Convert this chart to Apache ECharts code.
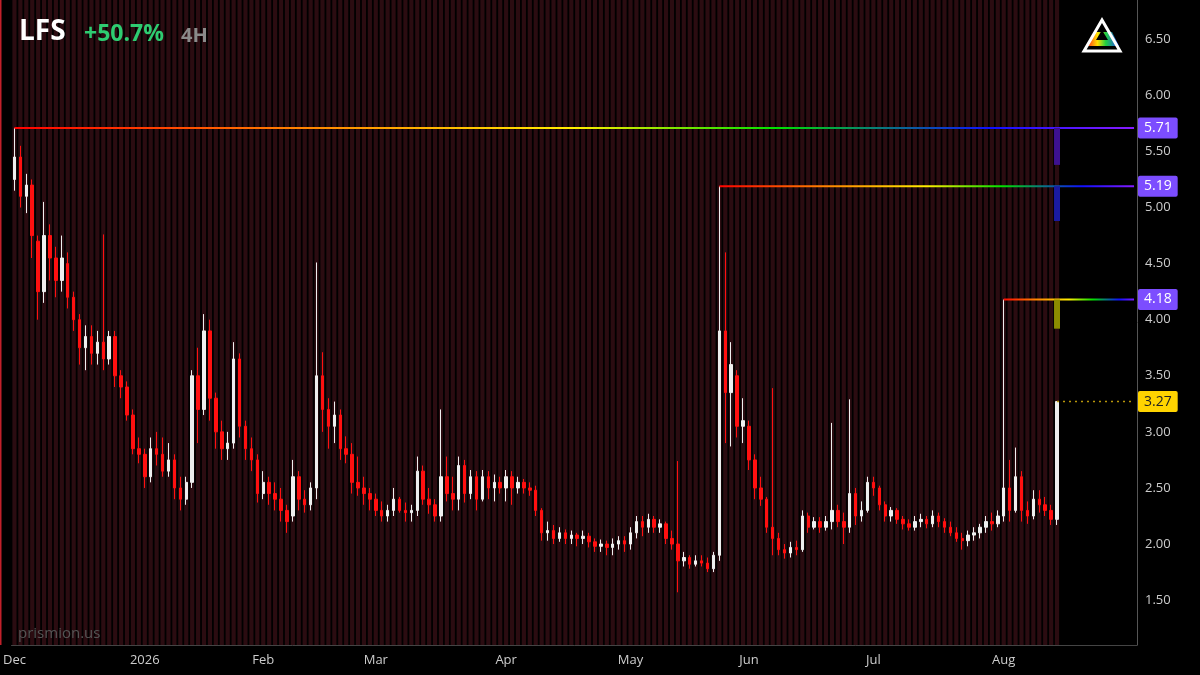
<!DOCTYPE html>
<html>
<head>
<meta charset="utf-8">
<script src="https://cdn.jsdelivr.net/npm/echarts@6/dist/echarts.min.js"></script>
<style>html,body{margin:0;background:#000;}#main{width:1200px;height:675px;}</style>
</head>
<body>
<div id="main"></div>
<script>
// daily OHLC as [open, close, low, high]
var ohlcDec = [[5.25,5.45,5.15,5.71],[5.45,5.1,5.0,5.55],[5.1,5.2,4.95,5.3],[5.2,4.75,4.55,5.25],[4.7,4.25,4.0,4.75],
    [4.25,4.75,4.15,5.05],[4.75,4.55,4.35,4.85],[4.55,4.35,4.2,4.65],[4.35,4.55,4.25,4.75],[4.5,4.2,4.1,4.6],
    [4.2,4.0,3.9,4.25],[4.0,3.75,3.6,4.05],[3.75,3.85,3.55,3.95],[3.85,3.7,3.6,3.95],[3.7,3.8,3.6,3.9],
    [3.8,3.65,3.55,4.76],[3.65,3.85,3.6,3.9],[3.85,3.5,3.4,3.9],[3.5,3.4,3.3,3.55],[3.4,3.15,3.1,3.45],
    [3.15,2.85,2.8,3.2],[2.85,2.8,2.72,2.95]];
var ohlcJan = [[2.8,2.6,2.5,2.85],[2.6,2.85,2.55,2.95],[2.85,2.8,2.7,3.0],[2.8,2.65,2.6,2.95],[2.65,2.75,2.6,2.9],
    [2.75,2.5,2.4,2.8],[2.5,2.4,2.3,2.6],[2.4,2.55,2.35,2.6],[2.55,3.5,2.5,3.55],[3.5,3.2,2.9,3.75],
    [3.2,3.9,3.15,4.05],[3.9,3.3,3.1,4.0],[3.3,3.0,2.85,3.35],[3.0,2.85,2.75,3.1],[2.85,2.9,2.75,3.0],
    [2.9,3.65,2.85,3.8],[3.65,3.05,2.95,3.7],[3.05,2.85,2.75,3.1],[2.85,2.75,2.65,2.95],[2.75,2.45,2.37,2.8]];
var ohlcFeb = [[2.45,2.55,2.4,2.65],[2.55,2.45,2.35,2.6],[2.45,2.4,2.3,2.55],[2.4,2.3,2.2,2.5],[2.3,2.2,2.1,2.35],
    [2.25,2.6,2.2,2.75],[2.6,2.4,2.3,2.65],[2.4,2.35,2.28,2.48],[2.35,2.5,2.3,2.55],[2.5,3.5,2.4,4.51],
    [3.5,3.2,3.0,3.71],[3.2,3.05,2.85,3.3],[3.05,3.15,2.9,3.27],[3.15,2.85,2.75,3.2],[2.85,2.8,2.72,2.96],
    [2.8,2.55,2.45,2.9],[2.55,2.5,2.43,2.78],[2.5,2.45,2.35,2.6],[2.45,2.4,2.3,2.5]];
var ohlcMar = [[2.4,2.3,2.25,2.45],[2.3,2.25,2.2,2.38],[2.25,2.3,2.2,2.35],[2.3,2.4,2.25,2.5],[2.4,2.3,2.28,2.42],
    [2.3,2.28,2.2,2.37],[2.28,2.3,2.2,2.35],[2.3,2.65,2.25,2.78],[2.65,2.4,2.35,2.7],[2.4,2.35,2.27,2.5],
    [2.35,2.25,2.2,2.4],[2.25,2.6,2.2,3.2],[2.6,2.45,2.38,2.78],[2.45,2.4,2.3,2.6],[2.4,2.7,2.3,2.78],
    [2.7,2.45,2.37,2.75],[2.45,2.6,2.4,2.66],[2.6,2.4,2.3,2.65],[2.4,2.6,2.38,2.66],[2.6,2.5,2.4,2.65],
    [2.5,2.55,2.38,2.62],[2.55,2.5,2.45,2.6]];
var ohlcApr = [[2.5,2.6,2.38,2.66],[2.6,2.5,2.35,2.65],[2.5,2.55,2.45,2.6],[2.55,2.5,2.45,2.58],[2.5,2.48,2.43,2.55],
    [2.48,2.3,2.25,2.52],[2.3,2.1,2.03,2.32],[2.1,2.12,2.03,2.2],[2.12,2.05,2.0,2.17],[2.05,2.1,2.02,2.15],
    [2.1,2.05,2.0,2.13],[2.05,2.08,2.0,2.12],[2.08,2.05,1.98,2.1],[2.05,2.07,2.0,2.12],[2.07,2.02,1.97,2.1],
    [2.02,1.98,1.93,2.05],[1.98,2.0,1.93,2.04],[2.0,1.97,1.9,2.03],[1.97,2.0,1.9,2.05],[2.0,2.03,1.95,2.07],
    [2.03,2.0,1.93,2.07]];
var ohlcMay = [[2.0,2.1,1.95,2.15],[2.1,2.2,2.05,2.25],[2.2,2.15,2.07,2.25],[2.15,2.22,2.1,2.27],[2.22,2.15,2.1,2.25],
    [2.15,2.18,2.1,2.22],[2.18,2.05,2.0,2.2],[2.05,2.0,1.95,2.12],[2.0,1.85,1.57,2.74],[1.85,1.88,1.8,1.93],
    [1.88,1.82,1.78,1.9],[1.82,1.85,1.8,1.9],[1.85,1.83,1.8,1.9],[1.83,1.78,1.75,1.88],[1.78,1.9,1.75,1.93],
    [1.9,3.9,1.85,5.19],[3.9,3.35,2.9,4.6],[3.35,3.6,2.87,3.8],[3.5,3.05,2.95,3.55],[3.05,3.1,2.9,3.3]];
var ohlcJun = [[3.05,2.75,2.66,3.1],[2.75,2.5,2.4,2.8],[2.5,2.4,2.34,2.6],[2.4,2.15,2.1,2.42],[2.15,2.05,1.9,3.39],
    [2.05,1.95,1.9,2.1],[1.95,1.92,1.87,2.0],[1.92,1.97,1.88,2.02],[1.97,1.95,1.9,2.03],[1.95,2.25,1.93,2.3],
    [2.25,2.15,2.1,2.28],[2.15,2.2,2.13,2.24],[2.2,2.15,2.1,2.24],[2.15,2.2,2.12,2.25],[2.2,2.3,2.13,3.08],
    [2.3,2.2,2.15,2.35],[2.2,2.15,2.0,2.28],[2.15,2.45,2.1,3.29],[2.45,2.25,2.17,2.5],[2.25,2.3,2.2,2.38],
    [2.3,2.55,2.28,2.6]];
var ohlcJul = [[2.55,2.5,2.43,2.6],[2.5,2.35,2.3,2.52],[2.35,2.25,2.2,2.38],[2.25,2.3,2.2,2.33],[2.3,2.22,2.18,2.32],
    [2.22,2.18,2.13,2.25],[2.18,2.15,2.12,2.22],[2.15,2.2,2.12,2.25],[2.2,2.22,2.15,2.27],[2.22,2.18,2.14,2.25],
    [2.18,2.25,2.15,2.3],[2.25,2.2,2.15,2.28],[2.2,2.15,2.1,2.23],[2.15,2.1,2.07,2.2],[2.1,2.05,2.02,2.15],
    [2.05,2.03,1.95,2.1],[2.03,2.08,1.98,2.12],[2.08,2.1,2.03,2.15],[2.1,2.15,2.05,2.18],[2.15,2.2,2.1,2.25],
    [2.2,2.18,2.12,2.28],[2.18,2.25,2.15,2.3]];
var ohlcAug = [[2.25,2.5,2.2,4.18],[2.5,2.3,2.2,2.75],[2.3,2.6,2.28,2.86],[2.6,2.3,2.2,2.65],[2.3,2.25,2.18,2.38],
    [2.25,2.4,2.22,2.48],[2.4,2.35,2.28,2.48],[2.35,2.3,2.25,2.42],[2.3,2.22,2.17,2.35],[2.22,3.27,2.17,3.27]];

var holidays = ['2025-12-25', '2026-01-01', '2026-01-19', '2026-02-16', '2026-04-03', '2026-05-25', '2026-06-19', '2026-07-03'];
var monthNames = ['Jan', 'Feb', 'Mar', 'Apr', 'May', 'Jun', 'Jul', 'Aug', 'Sep', 'Oct', 'Nov', 'Dec'];
// level lines: [price, start index (found below), bottom of the small bar, bar colour]
var levels = [[5.71, 0, 5.38, '#3d1190'], [5.19, 0, 4.88, '#1a1aa0'], [4.18, 0, 3.92, '#8c8c00']];
var lastPrice = 3.27;
var padBars = 13;

var ohlc = [].concat(ohlcDec, ohlcJan, ohlcFeb, ohlcMar, ohlcApr, ohlcMay, ohlcJun, ohlcJul, ohlcAug);
var n = ohlc.length;

// trading days
var dates = [], labels = {};
var d = new Date(Date.UTC(2025, 11, 1)), prevMonth = -1;
while (dates.length < n + padBars) {
    var key = d.toISOString().slice(0, 10);
    var wd = d.getUTCDay();
    if (wd != 0 && wd != 6 && holidays.indexOf(key) < 0) {
        if (d.getUTCMonth() != prevMonth && dates.length < n) {
            labels[dates.length] = d.getUTCMonth() == 0 ? String(d.getUTCFullYear()) : monthNames[d.getUTCMonth()];
        }
        prevMonth = d.getUTCMonth();
        dates.push(key);
    }
    d.setUTCDate(d.getUTCDate() + 1);
}

levels.forEach(function (lv) {
    for (var i = 0; i < n; i++) {
        if (ohlc[i][3] == lv[0]) { lv[1] = i; break; }
    }
});

var yMin = 1.1, yMax = 6.85;
var last = dates.length - 1;
var rainbow = new echarts.graphic.LinearGradient(0, 0, 1, 0, [
    {offset: 0, color: '#ff0000'}, {offset: 0.25, color: '#ff8000'}, {offset: 0.5, color: '#ffee00'},
    {offset: 0.68, color: '#00e000'}, {offset: 0.87, color: '#1010ff'}, {offset: 1, color: '#8a1cff'}]);

var series = [{
    type: 'bar', silent: true, data: ohlc.map(function () { return yMax; }),
    barCategoryGap: '30%', itemStyle: {color: '#2b0c11'}, z: 1
}, {
    type: 'candlestick', data: ohlc, barMaxWidth: 3, z: 5,
    itemStyle: {color: '#eeeeee', color0: '#ff1010', borderColor: '#eeeeee', borderColor0: '#ff1010', borderWidth: 1},
    markLine: {
        silent: true, symbol: 'none', precision: 2,
        lineStyle: {color: 'transparent', width: 0},
        label: {show: true, position: 'end', distance: 1, color: '#fff', fontSize: 14, padding: [4, 6, 3, 6],
            backgroundColor: '#7c4dff', borderRadius: 2, formatter: function (p) { return p.value.toFixed(2); }},
        data: levels.map(function (lv) { return {yAxis: lv[0]}; }).concat([{
            yAxis: lastPrice, label: {backgroundColor: '#ffd400', color: '#222'}
        }])
    }
}];
levels.forEach(function (lv) {
    series.push({
        type: 'line', silent: true, symbol: 'none', z: 6,
        data: [[lv[1], lv[0]], [last, lv[0]]],
        lineStyle: {width: 2, color: rainbow}
    });
    series.push({
        type: 'line', silent: true, symbol: 'none', z: 6,
        data: [[n - 1, lv[0]], [n - 1, lv[2]]],
        lineStyle: {width: 6, color: lv[3], cap: 'butt'}
    });
});
series.push({
    type: 'line', silent: true, symbol: 'none', z: 6,
    data: [[n - 1, lastPrice], [last, lastPrice]],
    lineStyle: {width: 1.5, color: '#b8960a', type: [2, 4]}
});

var myChart = echarts.init(document.getElementById('main'));
myChart.setOption({
    backgroundColor: '#000',
    animation: false,
    textStyle: {fontFamily: 'Open Sans'},
    grid: {left: 0, right: 63, top: 0, bottom: 30},
    xAxis: {
        type: 'category', data: dates, boundaryGap: true,
        axisLine: {lineStyle: {color: '#444'}}, axisTick: {show: false},
        axisLabel: {
            color: '#ccc', fontSize: 13, margin: 9, interval: 0,
            formatter: function (v, i) { return labels[i] || ''; }
        },
        splitLine: {show: false}
    },
    yAxis: {
        type: 'value', position: 'right', min: yMin, max: yMax, scale: true,
        axisLine: {show: true, lineStyle: {color: '#555'}}, axisTick: {show: false},
        splitLine: {show: false},
        axisLabel: {color: '#ccc', fontSize: 13, margin: 8, customValues: [1.5, 2, 2.5, 3, 3.5, 4, 4.5, 5, 5.5, 6, 6.5],
            formatter: function (v) { return v.toFixed(2); }}
    },
    series: series,
    graphic: [
        {type: 'rect', shape: {x: 0, y: 0, width: 1.5, height: 645}, style: {fill: '#c0202a'}, z: 100},
        {type: 'text', left: 19, top: 18, z: 100, style: {text: 'LFS', fill: '#fff', fontSize: 28, fontWeight: 'bold', fontFamily: 'Open Sans'}},
        {type: 'text', left: 84, top: 23, z: 100, style: {text: '+50.7%', fill: '#2ecc71', fontSize: 23, fontWeight: 'bold', fontFamily: 'Open Sans'}},
        {type: 'text', left: 181, top: 26, z: 100, style: {text: '4H', fill: '#8a8a8a', fontSize: 20, fontWeight: 'bold', fontFamily: 'Open Sans'}},
        {type: 'text', left: 18, top: 626, z: 100, style: {text: 'prismion.us', fill: '#555', fontSize: 15, fontFamily: 'Open Sans'}},
        {type: 'polygon', z: 100, shape: {points: [[1086, 46], [1094, 32], [1112, 32], [1119, 46]]},
            style: {fill: new echarts.graphic.LinearGradient(0, 0, 1, 0, [
                {offset: 0, color: '#ff2020'}, {offset: 0.35, color: '#ffe000'}, {offset: 0.6, color: '#20d040'},
                {offset: 1, color: '#2040ff'}])}},
        {type: 'polygon', z: 100, shape: {points: [[1102, 20], [1084, 51], [1120, 51]]},
            style: {fill: 'none', stroke: '#fff', lineWidth: 3}},
        {type: 'polygon', z: 100, shape: {points: [[1102, 30], [1096, 40], [1108, 40]]}, style: {fill: '#000'}}
    ]
});
</script>
</body>
</html>
